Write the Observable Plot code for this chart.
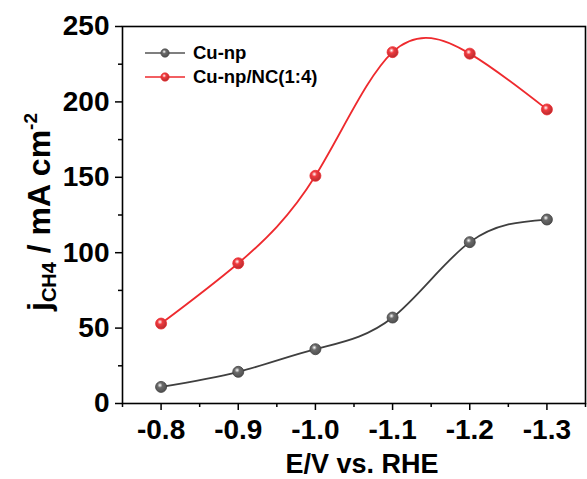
<!DOCTYPE html>
<html><head><meta charset="utf-8">
<script src="https://cdn.jsdelivr.net/npm/d3@7"></script>
<script src="https://cdn.jsdelivr.net/npm/@observablehq/plot@0.6"></script>
<style>
html,body{margin:0;padding:0;background:#fff;}
#chart{position:relative;width:587px;height:479px;}
</style>
</head><body><div id="chart"></div>
<script>
const potentials = [-0.8, -0.9, -1.0, -1.1, -1.2, -1.3];
const cuNp = [11, 21, 36, 57, 107, 122];
const cuNpNC = [53, 93, 151, 233, 232, 195];
const seriesNames = ["Cu-np", "Cu-np/NC(1:4)"];
const xTicks = [-0.8, -0.9, -1.0, -1.1, -1.2, -1.3];
const xMinor = [-0.75, -0.85, -0.95, -1.05, -1.15, -1.25, -1.35];
const yTicks = [0, 50, 100, 150, 200, 250];
const yMinor = [25, 75, 125, 175, 225];

const colors = {"Cu-np": "#3f3f3f", "Cu-np/NC(1:4)": "#ee2a2e"};
const data = [];
potentials.forEach((p, i) => {
  data.push({E: p, j: cuNp[i], s: seriesNames[0]});
  data.push({E: p, j: cuNpNC[i], s: seriesNames[1]});
});

const font = "'Liberation Sans', Arial, sans-serif";
const plot = Plot.plot({
  width: 587, height: 479,
  marginLeft: 122, marginRight: 2, marginTop: 26, marginBottom: 76,
  style: {fontFamily: font, fontWeight: "bold", fontSize: "28px", color: "#000", background: "#fff"},
  x: {domain: [-0.75, -1.35], label: null},
  y: {domain: [0, 250], label: null},
  marks: [
    Plot.frame({stroke: "#000", strokeWidth: 1.6}),
    Plot.axisX({ticks: xTicks, tickSize: 7, tickPadding: 9, tickFormat: d => d.toFixed(1), label: null, strokeWidth: 1.5}),
    Plot.axisX({ticks: xMinor, tickSize: 4, tickFormat: null, text: null, label: null, strokeWidth: 1.5}),
    Plot.axisY({ticks: yTicks, tickSize: 7, tickPadding: 6, label: null, strokeWidth: 1.5}),
    Plot.axisY({ticks: yMinor, tickSize: 4, text: null, label: null, strokeWidth: 1.5}),
    Plot.line(data, {x: "E", y: "j", z: "s", stroke: d => colors[d.s], curve: "natural", strokeWidth: 1.8}),
    Plot.dot(data, {x: "E", y: "j", r: 5.5, fill: d => colors[d.s], stroke: d => colors[d.s], strokeWidth: 0.8, className: "ball"})
  ]
});
document.getElementById("chart").appendChild(plot);

const svg = d3.select(plot);
const defs = svg.append("defs");
function grad(id, base) {
  const g = defs.append("radialGradient").attr("id", id).attr("cx", "40%").attr("cy", "35%").attr("r", "65%");
  g.append("stop").attr("offset", "0%").attr("stop-color", "#fff");
  g.append("stop").attr("offset", "35%").attr("stop-color", base);
  g.append("stop").attr("offset", "100%").attr("stop-color", d3.color(base).darker(0.8));
}
grad("gBlack", "#6a6a6a");
grad("gRed", "#f03a3e");
svg.selectAll("g.ball circle").each(function() {
  const f = d3.select(this).attr("fill");
  d3.select(this).attr("fill", f === colors["Cu-np"] ? "url(#gBlack)" : "url(#gRed)");
});

// legend
const legColors = ["#555555", "#ee2a2e"];
const leg = svg.append("g").attr("font-family", font).attr("font-weight", "bold").attr("font-size", 18.5).attr("text-anchor", "start");
seriesNames.forEach((n, i) => {
  const y = 53 + i * 24;
  leg.append("line").attr("x1", 145).attr("x2", 185).attr("y1", y).attr("y2", y).attr("stroke", legColors[i]).attr("stroke-width", 1.5);
  leg.append("circle").attr("cx", 165).attr("cy", y).attr("r", 4.2).attr("fill", i ? "url(#gRed)" : "url(#gBlack)").attr("stroke", colors[n]).attr("stroke-width", 0.6);
  leg.append("text").attr("x", 193).attr("y", y).attr("dy", "0.35em").attr("text-anchor", "start").text(n);
});

// axis titles
svg.append("text").attr("x", 362).attr("y", 473).attr("text-anchor", "middle")
  .attr("font-family", font).attr("font-weight", "bold").attr("font-size", 27).text("E/V vs. RHE");
const yt = svg.append("text").attr("transform", "translate(50,212) rotate(-90)").attr("text-anchor", "middle")
  .attr("font-family", font).attr("font-weight", "bold").attr("font-size", 32);
yt.append("tspan").text("j");
yt.append("tspan").attr("font-size", 20).attr("dy", 6).text("CH4");
yt.append("tspan").attr("dy", -6).text(" / mA cm");
yt.append("tspan").attr("font-size", 19).attr("dy", -13).text("-2");
</script>
</body></html>
